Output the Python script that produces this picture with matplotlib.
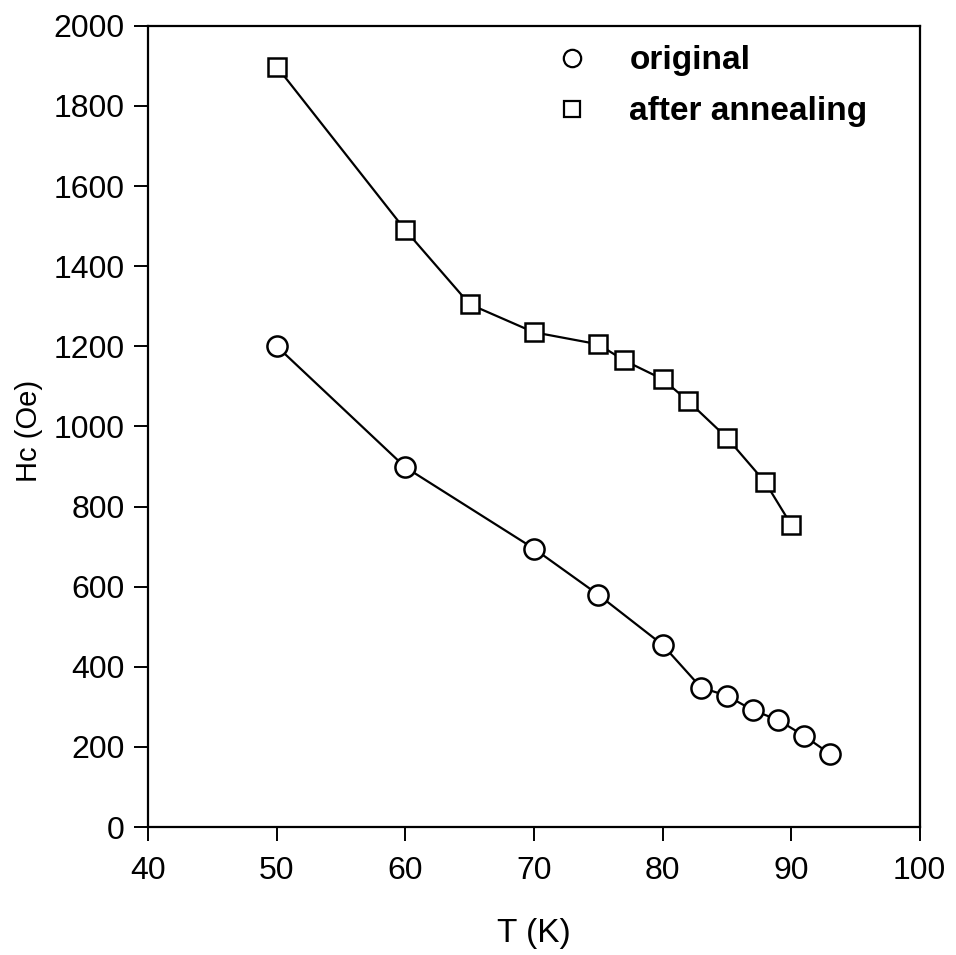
import matplotlib as mpl
mpl.use('Agg')
import matplotlib.pyplot as plt
from matplotlib.lines import Line2D

plt.rcParams['font.family'] = ['Liberation Sans', 'DejaVu Sans']

# data
T_orig = [50, 60, 70, 75, 80, 83, 85, 87, 89, 91, 93]
Hc_orig = [1200, 898, 695, 580, 455, 348, 328, 292, 267, 228, 183]

T_ann = [50, 60, 65, 70, 75, 77, 80, 82, 85, 88, 90]
Hc_ann = [1898, 1490, 1305, 1235, 1205, 1165, 1118, 1063, 972, 860, 755]

legend_labels = ['original', 'after annealing']

fig = plt.figure(figsize=(9.56, 9.55), dpi=100)
ax = fig.add_axes([0.155, 0.134, 0.807, 0.839])

lstyle = dict(color='black', lw=1.6, markerfacecolor='white',
              markeredgecolor='black', markeredgewidth=1.8)
ax.plot(T_orig, Hc_orig, marker='o', markersize=14.5, **lstyle)
ax.plot(T_ann, Hc_ann, marker='s', markersize=13, **lstyle)

ax.set_xlim(40, 100)
ax.set_ylim(0, 2000)
ax.set_xticks(range(40, 101, 10))
ax.set_yticks(range(0, 2001, 200))
ax.tick_params(direction='out', length=10, width=1.4, labelsize=23)
ax.tick_params(axis='x', pad=11)
ax.tick_params(axis='y', pad=7)
for s in ax.spines.values():
    s.set_linewidth(1.6)

ax.set_xlabel('T (K)', fontsize=24)
ax.set_ylabel('Hc (Oe)', fontsize=21)
ax.xaxis.set_label_coords(0.5, -0.113)
ax.yaxis.set_label_coords(-0.136, 0.494)

handles = [Line2D([], [], ls='none', marker='o', markersize=12.5, markerfacecolor='white',
                  markeredgecolor='black', markeredgewidth=1.6),
           Line2D([], [], ls='none', marker='s', markersize=11.5, markerfacecolor='white',
                  markeredgecolor='black', markeredgewidth=1.6)]
ax.legend(handles, legend_labels, loc='upper left', bbox_to_anchor=(0.489, 1.013),
          frameon=False, prop={'size': 24, 'weight': 'bold'}, handletextpad=1.22,
          labelspacing=0.6, handlelength=1.0)

fig.savefig('out.png', dpi=100)
